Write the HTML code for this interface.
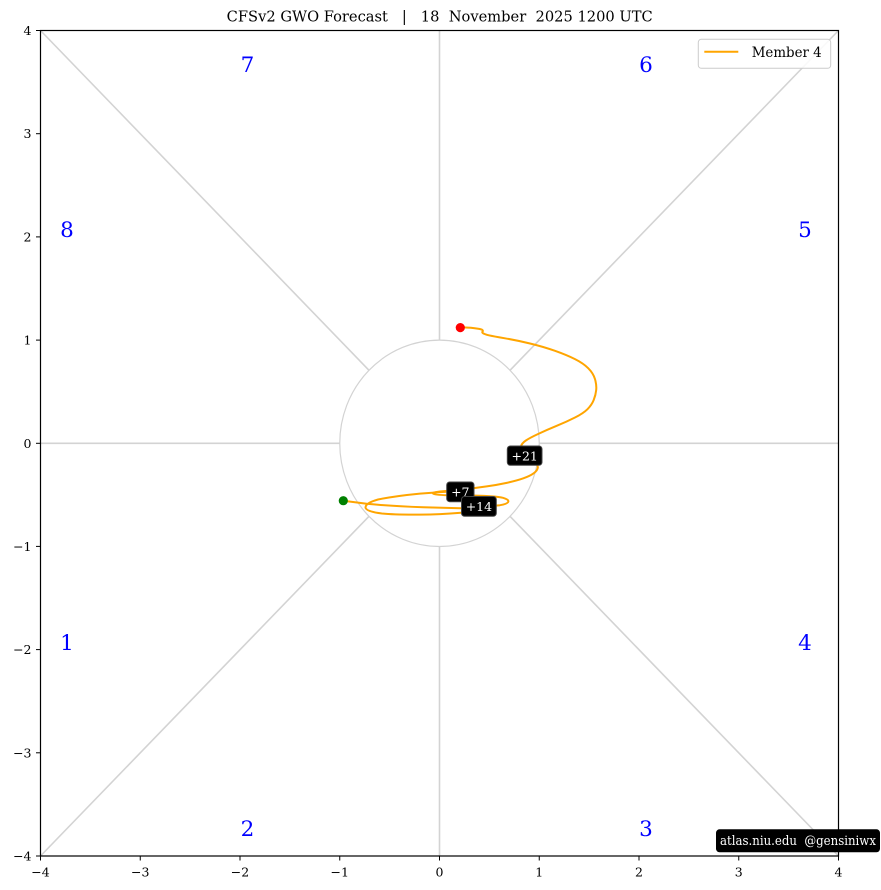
<!DOCTYPE html>
<html><head><meta charset="utf-8"><style>
html,body{margin:0;padding:0;background:#fff;}
svg{display:block;}
text{font-family:"DejaVu Serif","Liberation Serif",serif;white-space:pre;}
</style></head><body>
<svg width="881" height="890" viewBox="0 0 881 890" xmlns="http://www.w3.org/2000/svg" xml:space="preserve">
<rect x="0" y="0" width="881" height="890" fill="#fff"/>
<!-- title -->
<text x="226.7" y="21.5" font-size="14.5" fill="#000" textLength="426" lengthAdjust="spacingAndGlyphs">CFSv2 GWO Forecast   |   18  November  2025 1200 UTC</text>

<!-- gray guide lines -->
<g stroke="#d3d3d3" stroke-width="1.6" fill="none">
<line x1="40.5" y1="30.5" x2="369" y2="370.3"/>
<line x1="838.5" y1="30.5" x2="510" y2="370.3"/>
<line x1="40.5" y1="856" x2="369" y2="516.3"/>
<line x1="838.5" y1="856" x2="510" y2="516.3"/>
<line x1="40.5" y1="443.3" x2="339.75" y2="443.3"/>
<line x1="539.25" y1="443.3" x2="838.5" y2="443.3"/>
<line x1="439.5" y1="30.5" x2="439.5" y2="340.1"/>
<line x1="439.5" y1="546.5" x2="439.5" y2="856"/>
<ellipse cx="439.5" cy="443.3" rx="99.75" ry="103.2" stroke-width="1.2"/>
</g>

<!-- octant numbers -->
<g fill="#0000ff" font-size="21.5" text-anchor="middle">
<text x="247.5" y="72">7</text>
<text x="646" y="72">6</text>
<text x="67" y="237">8</text>
<text x="805" y="237">5</text>
<text x="67" y="650">1</text>
<text x="805" y="650">4</text>
<text x="247.5" y="836">2</text>
<text x="646" y="836">3</text>
</g>

<!-- trajectory -->
<g stroke="#ffa500" stroke-width="2" fill="none" stroke-linejoin="round" stroke-linecap="round">
<path d="M460.3,327.7 L463.5,327.5 Q466.7,327.3 470.85,327.8 Q475,328.3 478.25,328.75 Q481.5,329.2 482.4,330 Q483.3,330.8 482.55,331.6 Q481.8,332.4 483.15,333.35 Q484.5,334.3 488.9,335.3 Q493.3,336.3 505,338.3 Q516.7,340.3 530,343.5 Q543.3,346.7 555,350.85 Q566.7,355 575,359.15 Q583.3,363.3 588.3,368.3 Q593.3,373.3 595,379.15 Q596.7,385 596.2,390 Q595.7,395 593.7,400 Q591.7,405 587.5,409.15 Q583.3,413.3 575,417.5 Q566.7,421.7 556.7,425.85 Q546.7,430 538.35,433.85 Q530,437.7 525.85,440.5 Q521.7,443.3 520.85,446.65 Q520,450 525,454 Q530,458 534.15,461.5 Q538.3,465 537.8,467.85 Q537.3,470.7 533.65,473.35 Q530,476 523.35,478.35 Q516.7,480.7 506.7,482.85 Q496.7,485 486.7,486.35 Q476.7,487.7 468.35,488.85 L460,490 L446,491 Q432,492 433,493.5 Q434,495 448,495.2 L475,495.6 Q495,496 503,497.8 Q509,499.5 508.3,501.7 Q507.5,504 500,505.2 L485,506.5"/>
<path d="M475,511.5 L461,512.7 Q440,514.5 420,514.6 Q395,514.8 382,513.5 Q366,511.5 365.5,507.5 Q365.5,503 378,499.5 Q395,496 420,493.6 Q440,492 460,491"/>
<path d="M343.3,500.7 Q350,501.6 366.7,503.8 Q390,506 423.3,507.3 L470,508.5"/>
</g>

<!-- dots -->
<circle cx="460.3" cy="327.6" r="4.6" fill="#ff0000"/>
<circle cx="343.3" cy="500.7" r="4.6" fill="#008000"/>

<!-- day labels -->
<g font-size="12.5" fill="#fff" text-anchor="middle">
<rect x="507.3" y="446" width="34.7" height="19.3" rx="3" fill="#000" stroke="#444" stroke-width="1"/>
<text x="524.7" y="460.3">+21</text>
<rect x="446.7" y="482" width="27.3" height="19.7" rx="3" fill="#000" stroke="#444" stroke-width="1"/>
<text x="460.3" y="496.3">+7</text>
<rect x="461.5" y="496.5" width="34.8" height="19.8" rx="3" fill="#000" stroke="#444" stroke-width="1"/>
<text x="478.9" y="511">+14</text>
</g>

<!-- axes frame -->
<rect x="40.5" y="30.5" width="798" height="825.5" fill="none" stroke="#000" stroke-width="1.2"/>

<!-- ticks -->
<g stroke="#000" stroke-width="1">
<line x1="40.5" y1="856" x2="40.5" y2="860.5"/>
<line x1="140.25" y1="856" x2="140.25" y2="860.5"/>
<line x1="240" y1="856" x2="240" y2="860.5"/>
<line x1="339.75" y1="856" x2="339.75" y2="860.5"/>
<line x1="439.5" y1="856" x2="439.5" y2="860.5"/>
<line x1="539.25" y1="856" x2="539.25" y2="860.5"/>
<line x1="639" y1="856" x2="639" y2="860.5"/>
<line x1="738.75" y1="856" x2="738.75" y2="860.5"/>
<line x1="838.5" y1="856" x2="838.5" y2="860.5"/>
<line x1="36" y1="30.5" x2="40.5" y2="30.5"/>
<line x1="36" y1="133.7" x2="40.5" y2="133.7"/>
<line x1="36" y1="236.9" x2="40.5" y2="236.9"/>
<line x1="36" y1="340.1" x2="40.5" y2="340.1"/>
<line x1="36" y1="443.3" x2="40.5" y2="443.3"/>
<line x1="36" y1="546.4" x2="40.5" y2="546.4"/>
<line x1="36" y1="649.6" x2="40.5" y2="649.6"/>
<line x1="36" y1="752.8" x2="40.5" y2="752.8"/>
<line x1="36" y1="856" x2="40.5" y2="856"/>
</g>
<g font-size="12.5" fill="#000" text-anchor="middle">
<text x="40.5" y="876.5">−4</text>
<text x="140.25" y="876.5">−3</text>
<text x="240" y="876.5">−2</text>
<text x="339.75" y="876.5">−1</text>
<text x="439.5" y="876.5">0</text>
<text x="539.25" y="876.5">1</text>
<text x="639" y="876.5">2</text>
<text x="738.75" y="876.5">3</text>
<text x="838.5" y="876.5">4</text>
</g>
<g font-size="12.5" fill="#000" text-anchor="end">
<text x="31.5" y="35">4</text>
<text x="31.5" y="138.2">3</text>
<text x="31.5" y="241.4">2</text>
<text x="31.5" y="344.6">1</text>
<text x="31.5" y="447.8">0</text>
<text x="31.5" y="550.9">−1</text>
<text x="31.5" y="654.1">−2</text>
<text x="31.5" y="757.3">−3</text>
<text x="31.5" y="860.5">−4</text>
</g>

<!-- legend -->
<rect x="698.3" y="39.3" width="132.4" height="29" rx="3" fill="#fff" fill-opacity="0.85" stroke="#cccccc" stroke-width="1"/>
<line x1="704.3" y1="51.7" x2="738.3" y2="51.7" stroke="#ffa500" stroke-width="2"/>
<text x="751.7" y="57" font-size="14" fill="#000" textLength="70" lengthAdjust="spacingAndGlyphs">Member 4</text>

<!-- watermark -->
<rect x="716" y="829.3" width="164" height="23" rx="3.5" fill="#000"/>
<text x="720" y="845" font-size="13" fill="#fff" textLength="156" lengthAdjust="spacingAndGlyphs">atlas.niu.edu  @gensiniwx</text>
</svg>
</body></html>
